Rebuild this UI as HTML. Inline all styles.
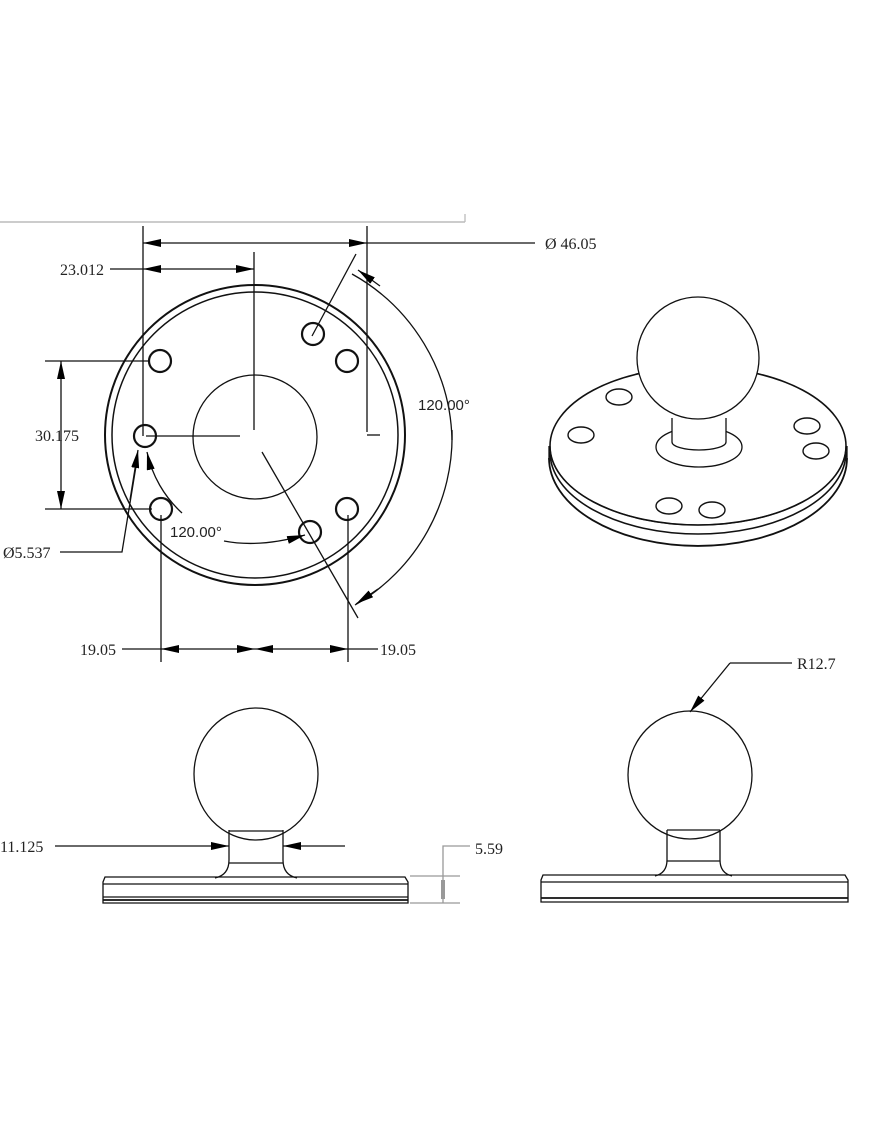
<!DOCTYPE html>
<html><head><meta charset="utf-8"><style>
html,body{margin:0;padding:0;background:#fff}
svg{display:block}
text{font-family:"Liberation Serif",serif;font-size:16px;fill:#222}
</style></head><body>
<svg width="870" height="1131" viewBox="0 0 870 1131" xmlns="http://www.w3.org/2000/svg">
<defs>
<marker id="a" viewBox="0 0 10 10" refX="10" refY="5" markerWidth="18" markerHeight="8" markerUnits="userSpaceOnUse" orient="auto-start-reverse" preserveAspectRatio="none"><path d="M0,0L10,5L0,10z" fill="#000"/></marker>
</defs>
<g fill="none" stroke="#111" stroke-width="1.3">
<line x1="0" y1="222" x2="465" y2="222" stroke="#bbb" stroke-width="1.5"/>
<line x1="465" y1="214" x2="465" y2="222" stroke="#bbb"/>
<circle cx="255" cy="435" r="150" stroke-width="2"/>
<circle cx="255" cy="435" r="143" stroke-width="1.5"/>
<circle cx="255" cy="437" r="62"/>
<g stroke-width="2.2">
<circle cx="160" cy="361" r="11"/><circle cx="145" cy="436" r="11"/><circle cx="161" cy="509" r="11"/>
<circle cx="313" cy="334" r="11"/><circle cx="347" cy="361" r="11"/><circle cx="347" cy="509" r="11"/><circle cx="310" cy="532" r="11"/>
</g>
<line x1="143" y1="226" x2="143" y2="436"/>
<line x1="367" y1="226" x2="367" y2="432"/>
<line x1="143" y1="243" x2="367" y2="243" marker-start="url(#a)" marker-end="url(#a)"/>
<line x1="367" y1="243" x2="535" y2="243"/>
<line x1="254" y1="252" x2="254" y2="430"/>
<line x1="110" y1="269" x2="143" y2="269"/>
<line x1="143" y1="269" x2="254" y2="269" marker-start="url(#a)" marker-end="url(#a)"/>
<line x1="146" y1="436" x2="240" y2="436"/>
<line x1="45" y1="361" x2="150" y2="361"/>
<line x1="45" y1="509" x2="152" y2="509"/>
<line x1="61" y1="361" x2="61" y2="509" marker-start="url(#a)" marker-end="url(#a)"/>
<polyline points="60,552 122,552 137,460"/>
<line x1="130" y1="500" x2="138" y2="450" marker-end="url(#a)"/>
<path d="M182,513 A115,115 0 0 1 147,452" marker-end="url(#a)"/>
<path d="M224,541 Q260,548 305,535" marker-end="url(#a)"/>
<line x1="356" y1="254" x2="312" y2="336"/>
<line x1="262" y1="452" x2="358" y2="618"/>
<path d="M352,274 A195,195 0 0 1 452,440" />
<path d="M452,430 A195,195 0 0 1 355,605"/>
<line x1="380" y1="286" x2="358" y2="270" marker-end="url(#a)"/>
<line x1="378" y1="589" x2="356" y2="604" marker-end="url(#a)"/>
<line x1="367" y1="435" x2="380" y2="435"/>
<line x1="161" y1="515" x2="161" y2="662"/>
<line x1="348" y1="515" x2="348" y2="662"/>
<line x1="122" y1="649" x2="161" y2="649"/>
<line x1="161" y1="649" x2="255" y2="649" marker-start="url(#a)" marker-end="url(#a)"/>
<line x1="255" y1="649" x2="348" y2="649" marker-start="url(#a)" marker-end="url(#a)"/>
<line x1="348" y1="649" x2="378" y2="649"/>
<path d="M550,446 A148,79 0 0 0 846,446"/>
<path d="M550,452 A148,82 0 0 0 846,452" stroke-width="1.6"/>
<path d="M549,458 A149,88 0 0 0 847,458" stroke-width="1.8"/>
<path d="M549,446 L549,460 M847,446 L847,460"/>
<ellipse cx="698" cy="446" rx="148" ry="79" stroke-width="1.6"/>
<ellipse cx="699" cy="447" rx="43" ry="20" fill="#fff"/>
<path d="M672,418 L672,442 A27,8 0 0 0 726,442 L726,418" fill="#fff"/>
<circle cx="698" cy="358" r="61" fill="#fff"/>
<g stroke-width="1.4">
<ellipse cx="619" cy="397" rx="13" ry="8"/><ellipse cx="581" cy="435" rx="13" ry="8"/>
<ellipse cx="807" cy="426" rx="13" ry="8"/><ellipse cx="816" cy="451" rx="13" ry="8"/>
<ellipse cx="669" cy="506" rx="13" ry="8"/><ellipse cx="712" cy="510" rx="13" ry="8"/>
</g>
<ellipse cx="256" cy="774" rx="62" ry="66"/>
<path d="M229,830 L229,860 Q229,875 215,878 M283,830 L283,860 Q283,875 297,878"/>
<line x1="229" y1="831" x2="283" y2="831"/>
<line x1="229" y1="863" x2="283" y2="863"/>
<path d="M105,877 L405,877 L408,882 L408,903 L103,903 L103,882 Z"/>
<line x1="103" y1="884" x2="408" y2="884"/>
<line x1="103" y1="897" x2="408" y2="897"/>
<line x1="103" y1="900" x2="408" y2="900" stroke-width="1.8"/>
<line x1="55" y1="846" x2="229" y2="846" marker-end="url(#a)"/>
<line x1="345" y1="846" x2="283" y2="846" marker-end="url(#a)"/>
<line x1="410" y1="876" x2="460" y2="876" stroke="#999"/>
<line x1="410" y1="903" x2="460" y2="903" stroke="#999"/>
<polyline points="443,903 443,846 470,846" stroke="#999"/>
<line x1="443" y1="880" x2="443" y2="899" stroke="#999" stroke-width="4"/>
<ellipse cx="690" cy="775" rx="62" ry="64"/>
<path d="M667,830 L667,860 Q667,873 655,876 M720,830 L720,860 Q720,873 732,876"/>
<line x1="667" y1="830" x2="720" y2="830"/>
<line x1="667" y1="861" x2="720" y2="861"/>
<path d="M543,875 L845,875 L848,880 L848,902 L541,902 L541,880 Z"/>
<line x1="541" y1="882" x2="848" y2="882"/>
<line x1="541" y1="898" x2="848" y2="898" stroke-width="1.8"/>
<polyline points="792,663 730,663"/>
<line x1="730" y1="663" x2="690" y2="712" marker-end="url(#a)"/>
</g>
<text x="545" y="249">Ø 46.05</text>
<text x="60" y="275">23.012</text>
<text x="35" y="441">30.175</text>
<text x="3" y="558">Ø5.537</text>
<text x="170" y="537" style="font-family:'Liberation Sans',sans-serif;font-size:15px">120.00°</text>
<text x="418" y="410" style="font-family:'Liberation Sans',sans-serif;font-size:15px">120.00°</text>
<text x="80" y="655">19.05</text>
<text x="380" y="655">19.05</text>
<text x="0" y="852">11.125</text>
<text x="475" y="854">5.59</text>
<text x="797" y="669">R12.7</text>
</svg>
</body></html>
